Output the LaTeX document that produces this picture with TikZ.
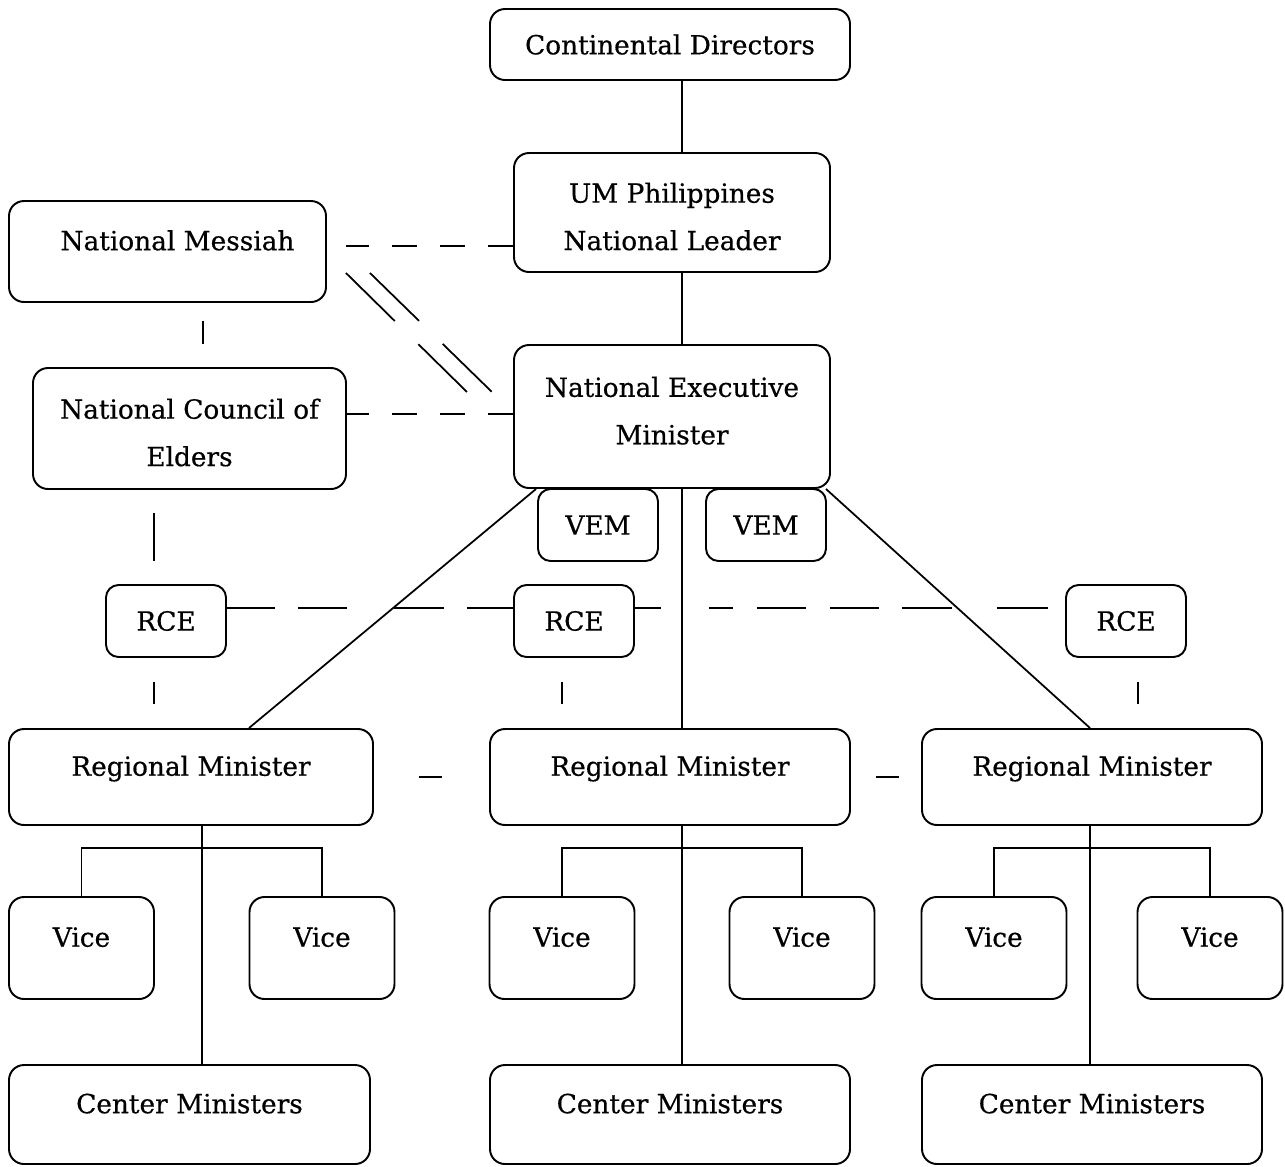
\documentclass[tikz,border=0pt]{standalone}
\usepackage{fontspec}
\setmainfont{DejaVu Serif}[FakeBold=0.5]
\usepackage{tikz}

\begin{document}
\begin{tikzpicture}[
  font=\fontsize{15}{27}\selectfont,
  box/.style={draw, line width=1.1pt, rounded corners=.3cm, align=center, inner sep=0pt},
  sbox/.style={box, rounded corners=.25cm, minimum width=2.4cm, minimum height=1.44cm},
  raised/.style={text height=11pt, text depth=12.5pt},
  rbox/.style={box, raised, minimum height=1.92cm},
  vbox/.style={box, raised, minimum width=2.9cm, minimum height=2.04cm},
  cbox/.style={box, raised, minimum height=1.98cm},
  ln/.style={line width=1pt},
  dln/.style={ln, dash pattern=on .5cm off .46cm},
  dlong/.style={ln, dash pattern=on 1.37cm off .66cm},
  ]

\useasboundingbox (0,0) rectangle (25.7,-23.32);

\path (13.4,-.89) node[box, minimum width=7.2cm, minimum height=1.42cm](cd){Continental Directors};
\path (13.44,-4.25) node[box, minimum width=6.32cm, minimum height=2.38cm](um){\rule{0pt}{16pt}UM Philippines\\National Leader};
\path (3.35,-5.03) node[box, raised, minimum width=6.34cm, minimum height=2.02cm](nm){\hspace*{.4cm}National Messiah};
\path (13.44,-8.33) node[box, minimum width=6.32cm, minimum height=2.86cm](nem){National Executive\\Minister\rule[-6.8pt]{0pt}{6.8pt}};
\path (3.79,-8.57) node[box, minimum width=6.26cm, minimum height=2.42cm](nce){\rule{0pt}{16pt}National Council of\\Elders};

\path (11.96,-10.5) node[sbox](vem1){VEM};
\path (15.32,-10.5) node[sbox](vem2){VEM};

\path (3.32,-12.42) node[sbox](rce1){RCE};
\path (11.48,-12.42) node[sbox](rce2){RCE};
\path (22.52,-12.42) node[sbox](rce3){RCE};

\path (3.82,-15.54) node[rbox, minimum width=7.28cm](rm1){Regional Minister};
\path (13.4,-15.54) node[rbox, minimum width=7.2cm](rm2){Regional Minister};
\path (21.84,-15.54) node[rbox, minimum width=6.8cm](rm3){Regional Minister};

\path (1.63,-18.96) node[vbox](v1){Vice};
\path (6.44,-18.96) node[vbox](v2){Vice};
\path (11.24,-18.96) node[vbox](v3){Vice};
\path (16.04,-18.96) node[vbox](v4){Vice};
\path (19.88,-18.96) node[vbox](v5){Vice};
\path (24.2,-18.96) node[vbox](v6){Vice};

\path (3.79,-22.29) node[cbox, minimum width=7.22cm](cm1){Center Ministers};
\path (13.4,-22.29) node[cbox, minimum width=7.2cm](cm2){Center Ministers};
\path (21.84,-22.29) node[cbox, minimum width=6.8cm](cm3){Center Ministers};

\coordinate (trunk) at (13.64,0);
\coordinate (sp1) at (4.04,0);
\coordinate (sp3) at (21.8,0);

\draw[ln] (cd.south -| trunk) -- (um.north -| trunk);
\draw[ln] (um.south -| trunk) -- (nem.north -| trunk);
\draw[ln] (nem.south -| trunk) -- (rm2.north -| trunk);
\draw[ln] ([xshift=.46cm]nem.south west) -- ([xshift=1.16cm]rm1.north);
\draw[ln] ([xshift=-.1cm]nem.south east) -- ([xshift=-.04cm]rm3.north);

\draw[ln] (rm1.south -| sp1) -- (cm1.north -| sp1);
\draw[ln] (rm2.south -| trunk) -- (cm2.north -| trunk);
\draw[ln] (rm3.south -| sp3) -- (cm3.north -| sp3);
\draw[ln] (v1.north) -- ++(0,.96) -| (v2.north);
\draw[ln] (v3.north) -- ++(0,.96) -| (v4.north);
\draw[ln] (v5.north) -- ++(0,.96) -| (v6.north);

\draw[dln, shorten >=.38cm] ([yshift=-.67cm]um.west) coordinate(m1) -- (m1 -| nm.east);
\draw[dln] ([yshift=.05cm]nem.west) coordinate(m2) -- (m2 -| nce.east);
\draw[dlong] ([xshift=.38cm,yshift=-.43cm]nm.east) -- ++(2.42,-2.38);
\draw[dlong] ([xshift=.86cm,yshift=-.43cm]nm.east) -- ++(2.44,-2.38);

\draw[ln, dash pattern=on .96cm off .46cm on .98cm off .94cm on 1cm off .46cm on .96cm]
  ([yshift=.26cm]rce1.east) -- ([yshift=.26cm]rce2.west);
\draw[ln, dash pattern=on .52cm off .96cm on .48cm off .48cm on .98cm off .48cm on .98cm off .46cm on 1cm off .9cm on 1.02cm off .38cm]
  ([yshift=.26cm]rce2.east) -- ([yshift=.26cm]rce3.west);

\path (nm.south) ++(.71,0) coordinate(t1);
\path (rce1.north) ++(-.24,0) coordinate(t2);
\path (rce1.south) ++(-.24,0) coordinate(t3);
\path (rce2.south) ++(-.24,0) coordinate(t4);
\path (rce3.south) ++(.24,0) coordinate(t5);
\draw[ln, shorten <=.36cm, shorten >=.46cm] (t1) -- (t1 |- nce.north);
\draw[ln, shorten <=.46cm, shorten >=.46cm] (t2 |- nce.south) -- (t2);
\draw[ln, shorten <=.48cm, shorten >=.48cm] (t3) -- (t3 |- rm1.north);
\draw[ln, shorten <=.48cm, shorten >=.48cm] (t4) -- (t4 |- rm2.north);
\draw[ln, shorten <=.48cm, shorten >=.48cm] (t5) -- (t5 |- rm3.north);
\draw[ln, shorten <=.9cm, shorten >=.94cm] (rm1.east) -- (rm2.west);
\draw[ln, shorten <=.5cm, shorten >=.44cm] (rm2.east) -- (rm3.west);

\end{tikzpicture}
\end{document}
